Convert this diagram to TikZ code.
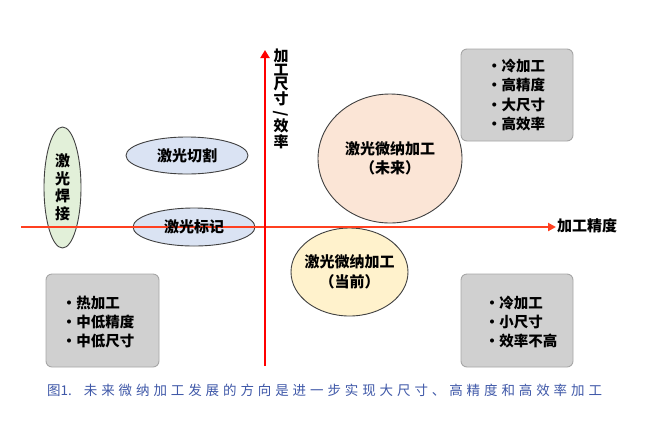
\documentclass[tikz,border=0pt]{standalone}
\usepackage{fontspec}
\setmainfont{Noto Sans CJK SC}
\usetikzlibrary{shapes.geometric,arrows.meta}
\definecolor{axisred}{HTML}{FF0000}
\definecolor{axisorange}{HTML}{FF4020}
\definecolor{greenfill}{HTML}{E2F0D9}
\definecolor{bluefill}{HTML}{DAE3F3}
\definecolor{peachfill}{HTML}{FBE5D6}
\definecolor{yellowfill}{HTML}{FFF2CC}
\definecolor{boxfill}{HTML}{D0D0D0}
\definecolor{boxline}{HTML}{A6A6A6}
\definecolor{capblue}{HTML}{3F58A8}
\def\mysp#1{\ifx#1\relax\else#1\kern3.9pt\expandafter\mysp\fi}
\tikzset{
  oval/.style={ellipse,draw=black!75,line width=0.9pt,inner sep=0pt},
  graybox/.style={draw=boxline,fill=boxfill,rounded corners=6pt,line width=0.9pt},
  lbl/.style={font=\fontsize{15}{18}\selectfont\bfseries,align=center,inner sep=0pt},
  boxtxt/.style={font=\fontsize{14.5}{19.3}\selectfont\bfseries,align=left,inner sep=0pt},
}
\begin{document}
\begin{tikzpicture}[x=1pt,y=-1pt]
\useasboundingbox (0,0) rectangle (668,421);
% ellipses
\node[oval,fill=greenfill,minimum width=37pt,minimum height=121pt] (weld) at (62.5,187.5) {};
\node[oval,fill=bluefill,minimum width=122pt,minimum height=37pt] (cut) at (187,155.5) {};
\node[oval,fill=bluefill,minimum width=122pt,minimum height=38pt] (mark) at (194,227) {};
\node[oval,fill=peachfill,minimum width=144pt,minimum height=129pt] (future) at (390,158.5) {};
\node[oval,fill=yellowfill,minimum width=117pt,minimum height=88pt] (current) at (349.5,272) {};
% gray boxes
\node[graybox,minimum width=112pt,minimum height=92pt] (tr) at (517,95) {};
\node[graybox,minimum width=113pt,minimum height=93pt] (bl) at (102.5,320.5) {};
\node[graybox,minimum width=112pt,minimum height=93pt] (br) at (517,320.5) {};
% axes
\coordinate (xs) at (21,227);
\coordinate (xe) at (556,227);
\coordinate (ys) at (265,366);
\coordinate (ye) at (265,50);
\draw[axisorange,line width=2pt,-{Triangle[length=8pt,width=8pt]}] (xs) -- (xe);
\draw[axisred,line width=2.6pt,-{Triangle[length=8pt,width=9pt]}] (ys) -- (ye);
% texts
\node[lbl,font=\fontsize{15}{17.5}\selectfont\bfseries] (weldt) at (weld.center) {激\\光\\焊\\接};
\node[lbl] (cutt) at (cut.center) {激光切割};
\node[lbl] (markt) at (mark.center) {激光标记};
\node[lbl,font=\fontsize{15}{19.5}\selectfont\bfseries] (futuret) at (future.center) {激光微纳加工\\（未来）};
\node[lbl,font=\fontsize{15}{19.5}\selectfont\bfseries] (currentt) at (current.center) {激光微纳加工\\（当前）};
\node[boxtxt] (trt) at (516,95) {・冷加工\\・高精度\\・大尺寸\\・高效率};
\node[boxtxt] (blt) at (98,322) {・热加工\\・中低精度\\・中低尺寸};
\node[boxtxt] (brt) at (521,322) {・冷加工\\・小尺寸\\・效率不高};
\node[lbl,anchor=west] (xlab) at (557,226) {加工精度};
\node[lbl,font=\fontsize{15}{13.7}\selectfont\bfseries] (ylab) at (281,99) {加\\工\\尺\\寸\\\rotatebox[origin=c]{90}{/}\\效\\率};
\node[font=\fontsize{13.5}{16}\selectfont,text=capblue,anchor=west,inner sep=0pt] (cap) at (47,390) {图1.\kern12pt\mysp 未来微纳加工发展的方向是进一步实现大尺寸、高精度和高效率加工\relax};
\end{tikzpicture}
\end{document}
